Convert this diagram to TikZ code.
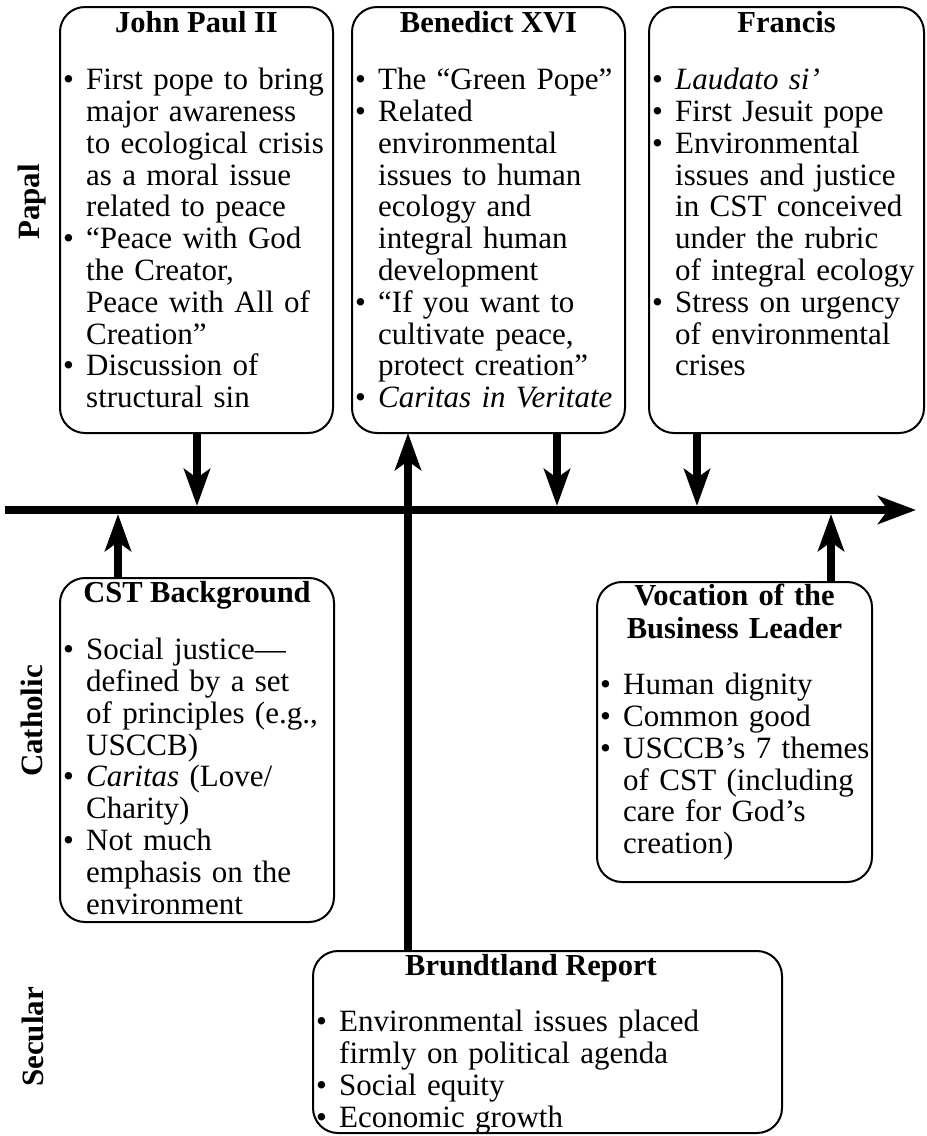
\documentclass[tikz,border=0pt]{standalone}
\usepackage{fontspec}
\setmainfont{Liberation Serif}
\usetikzlibrary{arrows.meta}
\newcommand{\bi}[1]{\par\hangindent=26pt\hangafter=1\noindent\makebox[26pt][l]{\kern3pt\textbullet}\strut#1\par}
\tikzset{
  box/.style={draw, line width=2pt, rounded corners=25pt, anchor=north west, inner sep=0pt, outer sep=0pt},
  ttl/.style={font=\fontsize{30.5}{33}\selectfont\bfseries, inner sep=0pt, anchor=base},
  body/.style={font=\fontsize{31}{31.8}\selectfont, inner sep=0pt, anchor=north west},
  side/.style={font=\fontsize{31}{33}\selectfont\bfseries, rotate=90, inner sep=0pt},
  arr/.style={line width=8pt, -{Stealth[length=37pt,width=26pt,inset=9pt]}},
  tline/.style={line width=8pt, -{Stealth[length=38pt,width=28pt,inset=10pt]}},
}
\begin{document}
\begin{tikzpicture}[x=1pt,y=-1pt]
\fill[white] (0,0) rectangle (927,1136);
\useasboundingbox (0,0) rectangle (927,1136);

% side labels
\node[side] (papal) at (32,202) {Papal};
\node[side] (catholic) at (32,721) {Catholic};
\node[side] (secular) at (33,1037) {Secular};

% boxes
\node[box, minimum width=273pt, minimum height=426pt] (jp) at (60,7) {};
\node[box, minimum width=273pt, minimum height=426pt] (bx) at (352,7) {};
\node[box, minimum width=275pt, minimum height=426pt] (fr) at (649,7) {};
\node[box, minimum width=274pt, minimum height=344pt] (cst) at (60,578) {};
\node[box, minimum width=275pt, minimum height=300pt] (vo) at (597,582) {};
\node[box, minimum width=469pt, minimum height=182pt] (br) at (313,951) {};

% titles
\node[ttl] (jpT) at (196.5,32) {John Paul II};
\node[ttl] (bxT) at (488.5,32) {Benedict XVI};
\node[ttl] (frT) at (786.5,32) {Francis};
\node[ttl] (cstT) at (197,602) {CST Background};
\node[ttl, anchor=north, text width=275pt, align=center] (voT) at (734.5,581.9) {\strut Vocation of the\\Business Leader};
\node[ttl] (brT) at (531,975) {Brundtland Report};

% bodies
\node[body, text width=280pt] (jpB) at (60,57.74) {%
\bi{First pope to bring\newline major awareness\newline to ecological crisis\newline as a moral issue\newline related to peace}
\bi{“Peace with God\newline the Creator,\newline Peace with All of\newline Creation”}
\bi{Discussion of\newline structural sin}};
\node[body, text width=280pt] (bxB) at (352,57.74) {%
\bi{The “Green Pope”}
\bi{Related\newline environmental\newline issues to human\newline ecology and\newline integral human\newline development}
\bi{“If you want to\newline cultivate peace,\newline protect creation”}
\bi{\textit{Caritas in Veritate}}};
\node[body, text width=275pt] (frB) at (649,57.74) {%
\bi{\textit{Laudato si’}}
\bi{First Jesuit pope}
\bi{Environmental\newline issues and justice\newline in CST conceived\newline under the rubric\newline of integral ecology}
\bi{Stress on urgency\newline of environmental\newline crises}};
\node[body, text width=280pt] (cstB) at (60,627.74) {%
\bi{Social justice—\newline defined by a set\newline of principles (e.g.,\newline USCCB)}
\bi{\textit{Caritas} (Love/\newline Charity)}
\bi{Not much\newline emphasis on the\newline environment}};
\node[body, text width=285pt] (voB) at (597,662.74) {%
\bi{Human dignity}
\bi{Common good}
\bi{USCCB’s 7 themes\newline of CST (including\newline care for God’s\newline creation)}};
\node[body, text width=460pt] (brB) at (313,999.74) {%
\bi{Environmental issues placed\newline firmly on political agenda}
\bi{Social equity}
\bi{Economic growth}};

% timeline
\coordinate (tlS) at (5,510);
\coordinate (tlE) at (916,510);
\draw[tline] (tlS) -- (tlE);

% arrow targets on the timeline
\coordinate (a1) at (197,506);
\coordinate (a2) at (557,506);
\coordinate (a3) at (697,506);
\coordinate (u1) at (118,514);
\coordinate (u2) at (831,514);
\coordinate (b1) at (408,0);

\draw[arr] (jp.south -| a1) -- (a1);
\draw[arr] (bx.south -| a2) -- (a2);
\draw[arr] (fr.south -| a3) -- (a3);
\draw[arr] (cst.north -| u1) -- (u1);
\draw[arr] (vo.north -| u2) -- (u2);
\draw[arr] (br.north -| b1) -- (bx.south -| b1);
\end{tikzpicture}
\end{document}
